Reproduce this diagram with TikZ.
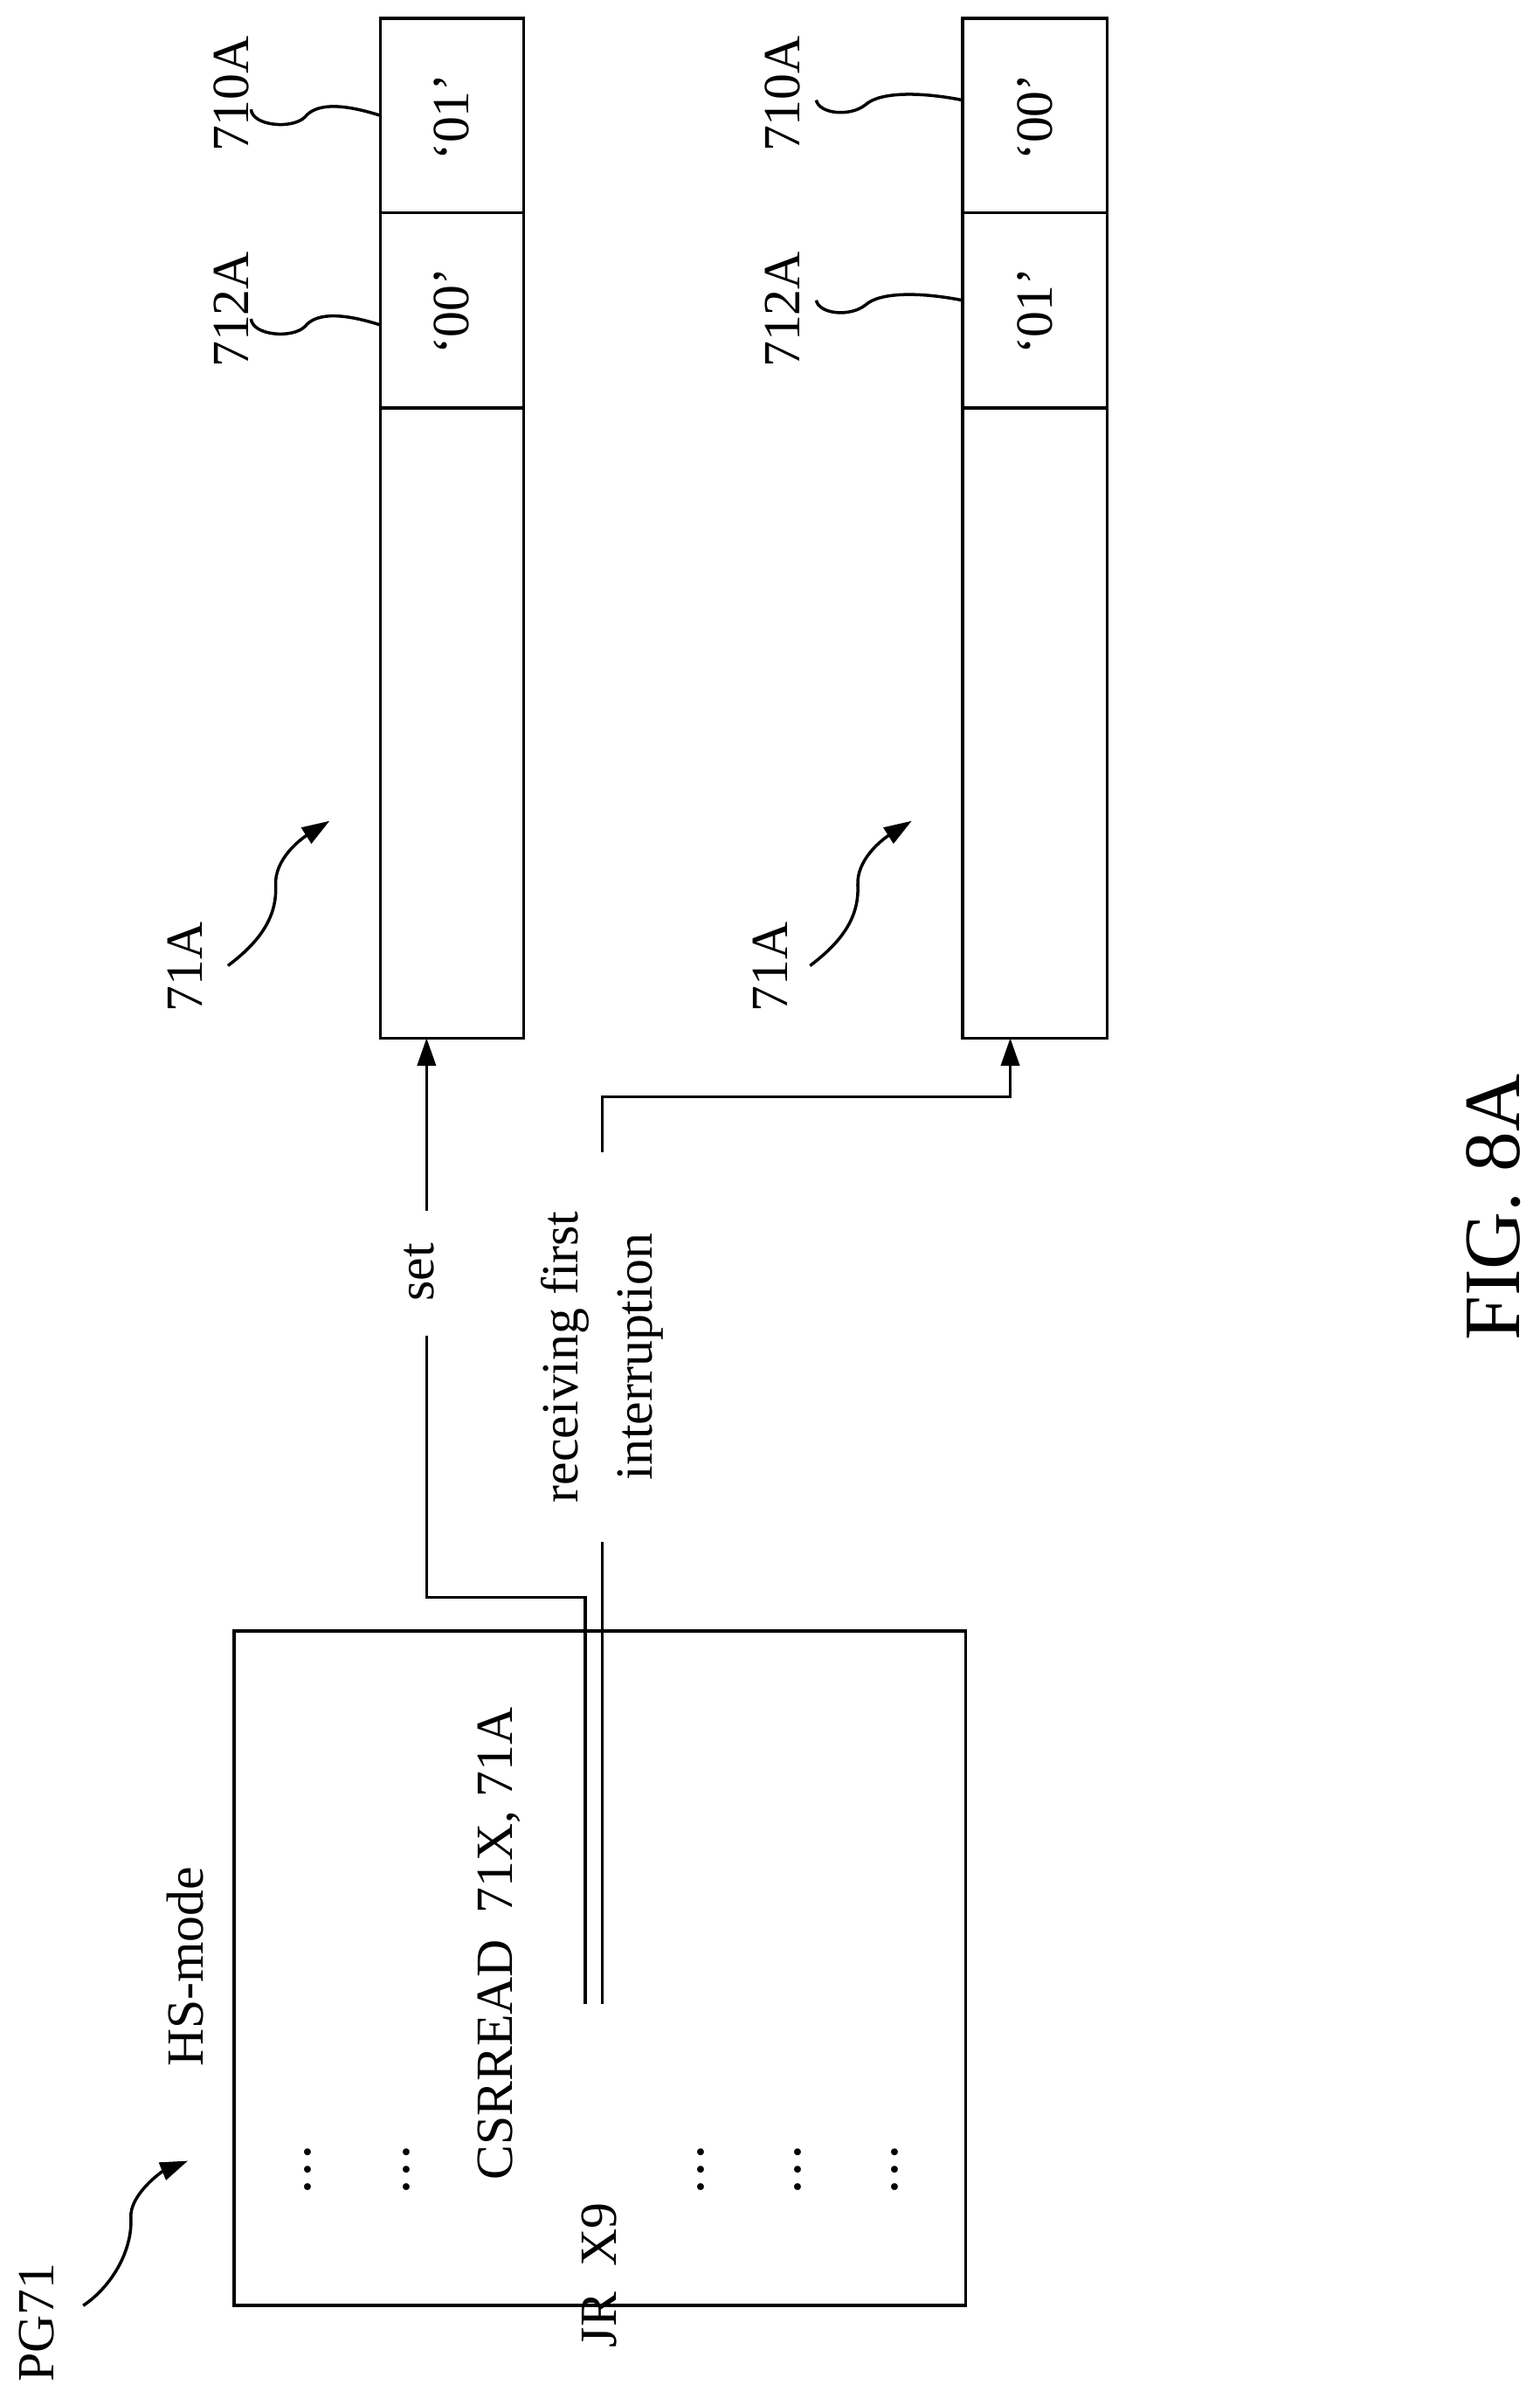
\documentclass[tikz,border=0pt]{standalone}
\usepackage{fontspec}
\setmainfont{Liberation Serif}
\usetikzlibrary{arrows.meta}
\begin{document}
\begin{tikzpicture}[x=0.01763cm,y=-0.01763cm,line width=1pt,
  lbl/.style={rotate=90,inner sep=1pt,font=\fontsize{17}{20}\selectfont},
  box/.style={draw,line width=1pt},
  arr/.style={-{Triangle[length=9pt,width=6pt]}},
  lead/.style={line width=1pt}]
\useasboundingbox (0,0) rectangle (1000,1557);
% register boxes
\draw[box] (247,12) rectangle (340,674);
\draw (247,138) -- (340,138) (247,265) -- (340,265);
\draw[box] (625,12) rectangle (719,674);
\draw (625,138) -- (719,138) (625,265) -- (719,265);
\node[lbl] (a01) at (293,76) {‘01’};
\node[lbl] (a00) at (293,202) {‘00’};
\node[lbl] (b00) at (672,76) {‘00’};
\node[lbl] (b01) at (672,202) {‘01’};
\node[lbl] (l710a) at (150,61) {710A};
\node[lbl] (l712a) at (150,201) {712A};
\node[lbl] (l710b) at (508,61) {710A};
\node[lbl] (l712b) at (508,201) {712A};
\coordinate (e1) at (247,75); \coordinate (e2) at (247,211);
\coordinate (e3) at (625,65); \coordinate (e4) at (625,195);
\draw[lead] (163,71) .. controls (164,82) and (190,84) .. (198,76) .. controls (206,66) and (225,68) .. (e1);
\draw[lead] (163,207) .. controls (164,218) and (190,220) .. (198,212) .. controls (206,202) and (225,204) .. (e2);
\draw[lead] (530,65) .. controls (532,74) and (552,76) .. (562,68) .. controls (572,59) and (600,60) .. (e3);
\draw[lead] (530,195) .. controls (532,204) and (552,206) .. (562,198) .. controls (572,189) and (600,190) .. (e4);
% 71A labels
\node[lbl] (r1) at (120,628) {71A};
\node[lbl] (r2) at (500,628) {71A};
\coordinate (t1) at (214,533); \coordinate (t2) at (592,533);
\draw[arr] (148,627) .. controls (168,612) and (180,596) .. (179,575) .. controls (178,558) and (195,545) .. (t1);
\draw[arr] (526,627) .. controls (546,612) and (558,596) .. (557,575) .. controls (556,558) and (573,545) .. (t2);
% program box
\draw[box] (152,1059) rectangle (627,1497);
\node[lbl] (hs) at (120,1277) {HS-mode};
\node[lbl] (csr) at (324,1262) {CSRREAD\ \ 71X, 71A};
\node[lbl,anchor=east] (jr) at (389,1427) {JR\ \ X9};
\foreach \x/\n in {200/d1,264/d2,455/d3,518/d4,581/d5}
  \node[lbl] (\n) at (\x,1409) {\fontspec{DejaVu Serif}…};
\node[lbl] (pg) at (24,1508) {PG71};
\coordinate (t3) at (122,1403);
\draw[arr] (54,1497) .. controls (72,1485) and (86,1462) .. (85,1440) .. controls (84,1425) and (105,1410) .. (t3);
% connectors
\coordinate (s0) at (380,1301);
\node[lbl] (set) at (272,826) {set};
\draw (s0) -- (380,1037) -- (277,1037) -- (277,867);
\draw[arr] (277,786) -- (277,674);
\coordinate (i0) at (391,1301);
\node[lbl,align=center,font=\fontsize{17}{24}\selectfont] (rcv) at (391,881) {receiving first\\interruption};
\draw (i0) -- (391,1001);
\draw[arr] (391,748) -- (391,712) -- (656,712) -- (656,674);
\node[rotate=90,font=\fontsize{26}{30}\selectfont] (fig) at (970,784) {FIG. 8A};
\end{tikzpicture}
\end{document}
